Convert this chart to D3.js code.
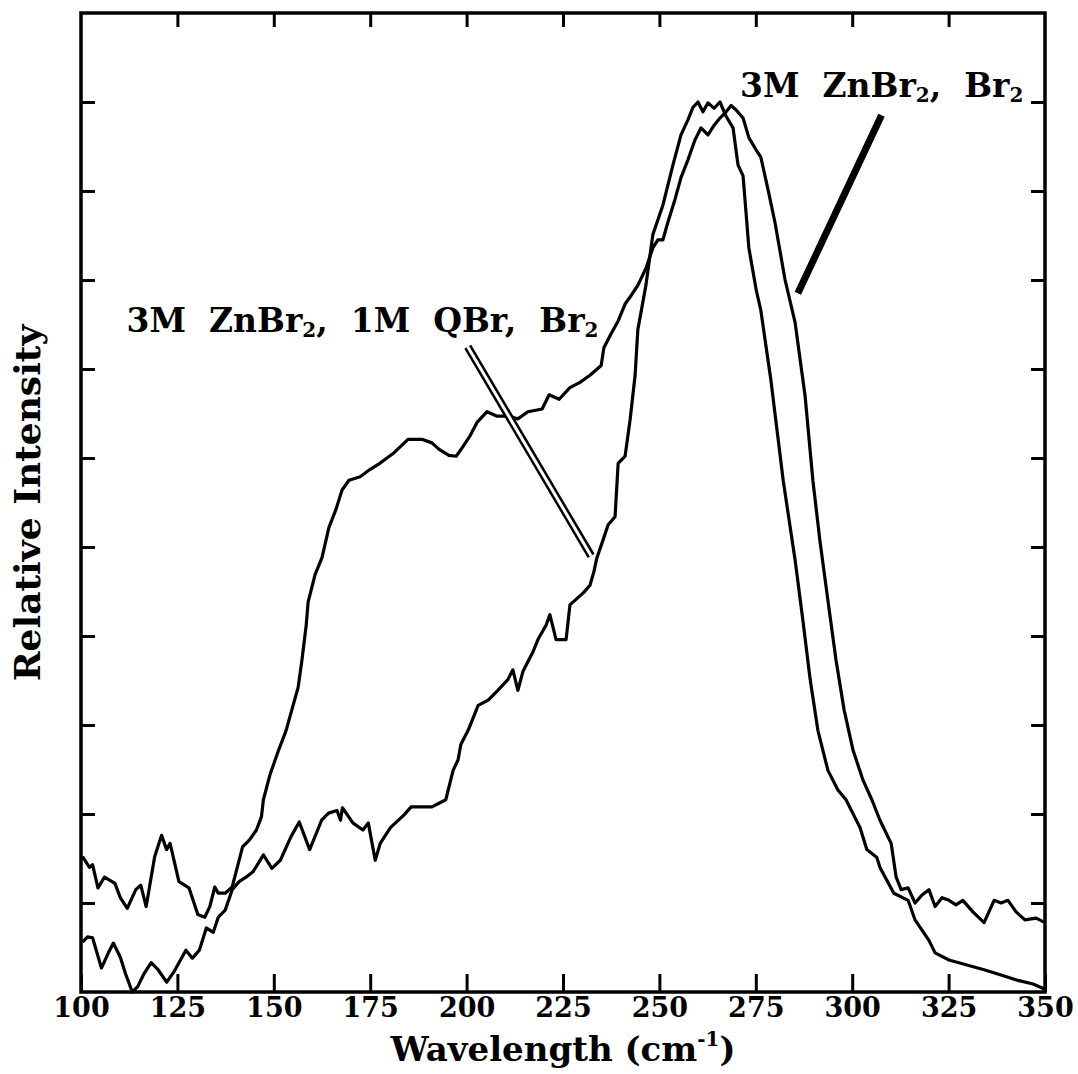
<!DOCTYPE html>
<html><head><meta charset="utf-8">
<script src="https://cdn.jsdelivr.net/npm/d3@7"></script>
<style>body{margin:0;background:#fff}svg{display:block}</style>
</head><body><svg id="c" width="1078" height="1074"></svg>
<script>
// ---- data ----
const xTickValues = [100,125,150,175,200,225,250,275,300,325,350];
const yTickValues = [1,2,3,4,5,6,7,8,9,10];
const xDomain = [100, 350];
const yDomain = [0, 11];

// Series A: broad band, "3M ZnBr2, Br2"
const seriesA_x = [100.4,102.2,103.0,104.4,106.1,108.8,110.2,112.0,114.2,115.5,116.9,119.1,120.9,122.2,123.1,125.4,128.0,130.3,132.1,133.4,134.7,135.6,137.4,139.2,141.0,141.9,143.7,145.5,146.8,147.3,149.0,151.1,153.2,155.0,156.3,157.3,158.4,158.9,160.7,162.5,164.3,166.1,167.7,169.5,172.4,174.9,177.5,181.2,184.8,188.4,191.0,192.8,195.4,197.3,199.1,200.9,202.7,205.3,207.9,210.7,213.3,215.9,219.6,221.4,224.0,226.8,229.4,232.0,234.9,235.6,237.4,239.3,241.1,242.9,244.4,246.5,248.3,249.6,250.9,252.2,254.0,255.6,257.4,259.2,260.8,262.6,264.2,265.7,267.3,268.6,269.9,271.7,273.2,275.1,276.3,278.2,280.0,282.6,285.2,287.8,289.8,291.6,293.7,295.8,297.9,300.2,302.8,305.1,307.2,310.1,311.4,312.7,314.5,316.3,318.1,319.9,321.5,323.3,325.1,326.9,328.7,331.3,334.2,336.8,338.6,340.4,342.5,344.8,347.7,350.0];
const seriesA_y = [1.52,1.40,1.43,1.17,1.29,1.22,1.06,0.94,1.15,1.20,0.96,1.52,1.76,1.60,1.67,1.24,1.17,0.87,0.84,0.96,1.18,1.11,1.11,1.18,1.48,1.63,1.71,1.82,1.97,2.16,2.44,2.70,2.94,3.22,3.42,3.73,4.12,4.38,4.69,4.88,5.22,5.42,5.64,5.75,5.79,5.87,5.94,6.06,6.21,6.21,6.17,6.10,6.03,6.02,6.13,6.25,6.40,6.52,6.47,6.47,6.44,6.52,6.55,6.71,6.66,6.79,6.85,6.93,7.04,7.24,7.39,7.54,7.73,7.84,7.94,8.13,8.36,8.45,8.45,8.65,8.90,9.15,9.35,9.57,9.71,9.63,9.74,9.82,9.89,9.96,9.91,9.82,9.60,9.46,9.38,9.01,8.64,8.00,7.52,6.69,5.75,5.08,4.40,3.73,3.17,2.72,2.38,2.16,1.93,1.67,1.29,1.15,1.17,1.00,1.09,1.15,0.96,1.06,1.03,0.98,1.03,0.90,0.78,1.03,1.00,1.03,0.90,0.81,0.83,0.78];

// Series B: narrower band, "3M ZnBr2, 1M QBr, Br2"
const seriesB_x = [100.4,101.7,103.0,105.3,107.1,108.4,110.2,111.5,113.3,114.7,116.4,118.2,120.0,122.2,124.0,125.8,127.2,128.9,130.7,132.5,134.3,135.6,137.4,139.2,141.0,142.8,144.6,147.3,149.5,151.7,154.4,156.6,159.3,162.4,164.2,166.4,167.3,167.8,170.5,173.1,174.5,176.3,177.6,180.3,183.8,185.6,191.0,194.6,196.5,197.8,198.5,200.4,203.0,205.6,208.1,210.7,212.0,213.3,214.6,217.2,218.5,220.6,221.6,223.2,225.8,226.8,228.6,230.4,232.0,233.0,233.8,235.4,236.7,238.5,239.3,241.1,242.4,243.7,244.4,246.5,248.3,250.9,253.5,255.6,257.4,258.7,260.0,261.3,262.6,264.2,265.7,267.3,269.1,270.4,271.7,273.2,275.1,276.3,278.9,282.1,285.2,287.2,289.1,291.1,293.7,296.3,298.4,302.0,303.8,306.4,307.2,310.8,314.5,316.3,319.9,321.5,325.1,330.0,334.2,338.6,343.0,346.9,350.0];
const seriesB_y = [0.56,0.62,0.61,0.27,0.44,0.55,0.39,0.21,0.0,0.06,0.21,0.33,0.25,0.11,0.22,0.36,0.47,0.38,0.47,0.72,0.67,0.84,0.92,1.15,1.24,1.29,1.35,1.54,1.39,1.48,1.74,1.91,1.60,1.93,2.01,2.04,1.93,2.07,1.90,1.82,1.90,1.48,1.67,1.85,1.99,2.08,2.08,2.16,2.49,2.61,2.78,2.94,3.22,3.28,3.39,3.51,3.62,3.39,3.60,3.82,3.96,4.12,4.24,3.96,3.96,4.35,4.42,4.49,4.57,4.72,4.88,5.08,5.25,5.34,5.94,6.02,6.43,6.93,7.44,7.94,8.51,8.84,9.29,9.63,9.80,9.94,10.0,9.89,9.99,9.93,10.0,9.84,9.71,9.29,9.17,8.36,7.89,7.66,6.88,5.75,4.85,4.18,3.51,2.94,2.49,2.27,2.16,1.85,1.60,1.51,1.40,1.11,1.03,0.81,0.58,0.44,0.36,0.30,0.25,0.19,0.13,0.09,0.03];

// annotation texts and pointer ends (data units)
const labelQBr = {parts:[["3M  ZnBr",false],["2",true],[",  1M  QBr,  Br",false],["2",true]], x:111.8, y:7.42};
const labelBr  = {parts:[["3M  ZnBr",false],["2",true],[",  Br",false],["2",true]], x:270.9, y:10.06};
const pointerQBr = [[200.3,7.25],[232.3,4.9]];
const pointerBr  = [[285.9,7.85],[307.6,9.85]];

// ---- drawing ----
const svg = d3.select("#c");
const FONT = "'DejaVu Serif', serif";
const x = d3.scaleLinear().domain(xDomain).range([81, 1045]);
const y = d3.scaleLinear().domain(yDomain).range([992, 13]);

const g = svg.append("g");

function styleAxis(sel){
  sel.select(".domain").remove();
  sel.selectAll(".tick line").attr("stroke","#000").attr("stroke-width",3);
}
g.append("g").attr("transform",`translate(0,${y(0)})`)
  .call(d3.axisBottom(x).tickValues(xTickValues).tickSize(-18).tickPadding(6).tickFormat(d3.format("d")))
  .call(styleAxis)
  .call(s=>s.selectAll("text").attr("font-family",FONT).attr("font-weight","bold").attr("font-size",27).attr("fill","#000"));
g.append("g").attr("transform",`translate(0,${y(11)})`)
  .call(d3.axisTop(x).tickValues(xTickValues.slice(1,-1)).tickSize(-14).tickFormat(""))
  .call(styleAxis);
g.append("g").attr("transform",`translate(${x(100)},0)`)
  .call(d3.axisLeft(y).tickValues(yTickValues).tickSize(-14).tickFormat(""))
  .call(styleAxis);
g.append("g").attr("transform",`translate(${x(350)},0)`)
  .call(d3.axisRight(y).tickValues(yTickValues).tickSize(-14).tickFormat(""))
  .call(styleAxis);

// frame
g.append("rect").attr("x",x(100)).attr("y",y(11)).attr("width",x(350)-x(100)).attr("height",y(0)-y(11))
  .attr("fill","none").attr("stroke","#000").attr("stroke-width",3.5);

// curves
const line = d3.line().x(d=>x(d[0])).y(d=>y(d[1]));
[[seriesA_x,seriesA_y],[seriesB_x,seriesB_y]].forEach(([xs,ys])=>{
  g.append("path").datum(d3.zip(xs,ys)).attr("d",line)
    .attr("fill","none").attr("stroke","#000").attr("stroke-width",3.2).attr("stroke-linejoin","round");
});

// pointers
g.append("line").attr("x1",x(pointerQBr[0][0])).attr("y1",y(pointerQBr[0][1])).attr("x2",x(pointerQBr[1][0])).attr("y2",y(pointerQBr[1][1]))
  .attr("stroke","#000").attr("stroke-width",8);
g.append("line").attr("x1",x(pointerQBr[0][0])).attr("y1",y(pointerQBr[0][1])).attr("x2",x(pointerQBr[1][0])).attr("y2",y(pointerQBr[1][1]))
  .attr("stroke","#fff").attr("stroke-width",3);
g.append("line").attr("x1",x(pointerBr[0][0])).attr("y1",y(pointerBr[0][1])).attr("x2",x(pointerBr[1][0])).attr("y2",y(pointerBr[1][1]))
  .attr("stroke","#000").attr("stroke-width",7);

// labels
function label(l){
  const t = g.append("text").attr("x",x(l.x)).attr("y",y(l.y)).attr("font-family",FONT)
    .attr("font-weight","bold").attr("font-size",33).attr("fill","#000").attr("xml:space","preserve").style("white-space","pre");
  let down=false;
  l.parts.forEach(([s,sub])=>{
    const ts=t.append("tspan").text(s);
    if(sub){ ts.attr("font-size",20).attr("dy",5); down=true; }
    else if(down){ ts.attr("dy",-5); down=false; }
  });
}
label(labelQBr); label(labelBr);

// axis titles
const xt = g.append("text").attr("x",563).attr("y",1061).attr("text-anchor","middle")
  .attr("font-family",FONT).attr("font-weight","bold").attr("font-size",34).attr("fill","#000");
xt.append("tspan").text("Wavelength (cm");
xt.append("tspan").text("-1").attr("font-size",20).attr("dy",-15);
xt.append("tspan").text(")").attr("dy",15);

g.append("text").attr("transform","translate(40,503) rotate(-90)").attr("text-anchor","middle")
  .attr("font-family",FONT).attr("font-weight","bold").attr("font-size",36).attr("fill","#000")
  .text("Relative Intensity");
</script></body></html>
